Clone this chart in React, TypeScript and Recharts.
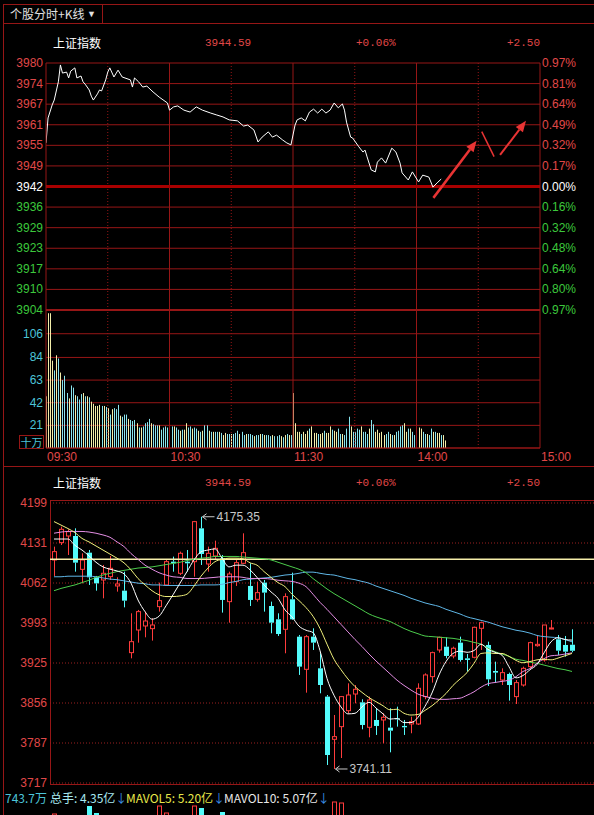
import React from 'react';
import {
  LineChart, BarChart, ComposedChart, Line, Bar, XAxis, YAxis,
  CartesianGrid, ReferenceLine,
} from 'recharts';

// ---------- intraday (分时) ----------
const priceMinutes = [
  0, 1, 3, 4, 6, 7, 8, 10, 11, 12, 14, 15, 17, 18, 19, 21, 22, 23, 25, 26,
  27, 29, 30, 31, 33, 35, 37, 41, 42, 43, 45, 47, 49, 52, 55, 59, 60, 62, 64, 67,
  70, 73, 76, 80, 83, 86, 89, 93, 96, 98, 101, 103, 105, 108, 110, 112, 115, 117, 119, 121,
  122, 124, 126, 128, 130, 132, 134, 136, 138, 140, 142, 144, 145, 146, 148, 149, 152, 154, 155, 156,
  158, 160, 161, 163, 165, 168, 170, 172, 173, 176, 178, 181, 183, 186, 188, 190, 192,
];
const priceValues = [
  3955.4, 3963.1, 3967.1, 3968.6, 3974.2, 3979.4, 3976.9, 3977.2, 3975.4, 3977.5,
  3978.5, 3975.4, 3976.0, 3974.2, 3973.5, 3971.7, 3969.8, 3968.6, 3970.5, 3971.7,
  3971.4, 3974.8, 3977.2, 3978.5, 3975.7, 3977.8, 3975.7, 3974.8, 3972.6, 3975.4,
  3974.2, 3972.6, 3972.9, 3971.1, 3969.5, 3967.7, 3965.5, 3966.5, 3966.8, 3965.5,
  3964.9, 3966.5, 3965.5, 3964.6, 3964.0, 3963.4, 3962.5, 3962.2, 3960.6, 3960.9,
  3959.4, 3955.7, 3957.2, 3958.8, 3957.2, 3957.8, 3956.3, 3955.4, 3954.8, 3960.9,
  3962.5, 3963.1, 3962.2, 3964.9, 3965.8, 3964.6, 3965.8, 3964.6, 3965.5, 3967.7,
  3966.2, 3967.4, 3965.5, 3961.8, 3957.2, 3956.9, 3954.2, 3952.6, 3953.2, 3951.1,
  3947.1, 3946.5, 3949.5, 3950.8, 3949.2, 3953.8, 3952.6, 3949.2, 3946.2, 3944.0,
  3946.5, 3943.4, 3945.5, 3944.9, 3941.8, 3943.1, 3944.3,
];
// volume per minute, unit 十万
const morningVolumes = [
  48, 125, 125, 81, 72, 86, 83, 70, 63, 67, 51, 46, 58, 56, 49, 48, 45, 50, 51, 48,
  48, 47, 43, 41, 39, 39, 40, 39, 39, 38, 37, 31, 36, 37, 36, 40, 30, 29, 31, 31,
  27, 26, 25, 26, 23, 19, 19, 20, 23, 24, 27, 23, 22, 21, 21, 21, 17, 19, 20, 19,
  18, 20, 20, 19, 17, 16, 17, 17, 23, 19, 20, 18, 19, 18, 16, 15, 16, 21, 21, 16,
  15, 15, 15, 15, 15, 14, 12, 14, 13, 13, 13, 13, 14, 16, 13, 15, 12, 13, 13, 13,
  12, 11, 12, 12, 13, 13, 12, 12, 12, 11, 12, 11, 11, 12, 11, 10, 12, 13, 12, 12,
];
const afternoonVolumes = [
  51, 23, 15, 15, 13, 15, 13, 16, 18, 20, 14, 14, 13, 13, 14, 16, 14, 14, 20, 17,
  16, 15, 18, 13, 13, 12, 18, 29, 20, 15, 15, 18, 17, 20, 15, 15, 13, 18, 26, 22,
  15, 17, 14, 15, 12, 13, 15, 13, 12, 12, 15, 16, 20, 21, 23, 15, 18, 18, 15, 12,
  16, 19, 18, 15, 13, 13, 12, 18, 15, 15, 14, 14, 12, 12, 7,
];
// y = up minute (yellow), c = down minute (cyan)
const morningFlags =
  'yyyycycycc' + 'cyccycccyc' + 'ycyyyyycyc' + 'ycycccyccc' + 'ycccycyccc' + 'cycccycccc' +
  'ycyccycyyc' + 'cyccycyccy' + 'cyccycyycc' + 'ycccyccycc' + 'cyccycyccc' + 'ycccycycyc';
const afternoonFlags =
  'yyyycyyycy' + 'yycyycyyyc' + 'yyccycccyc' + 'cccycccycc' + 'yyyyyccycy' + 'ccccyycycc' +
  'cyyccyccyc' + 'yycyy';

const priceTickLabels = ['3980', '3974', '3967', '3961', '3955', '3949', '3942', '3936', '3929', '3923', '3917', '3910', '3904'];
const pctTickLabels = ['0.97%', '0.81%', '0.64%', '0.49%', '0.32%', '0.17%', '0.00%', '0.16%', '0.32%', '0.48%', '0.64%', '0.80%', '0.97%'];
const volumeTicks = [21, 42, 63, 84, 106];
const timeTicks = [0, 60, 120, 180, 240];
const timeLabels = ['09:30', '10:30', '11:30', '14:00', '15:00'];

// hand-drawn red arrows, in (minute, price)
const annotations = [
  { from: [188.2, 3938.5], to: [209.2, 3956.1], head: true, w: 2.5 },
  { from: [211.7, 3958.9], to: [217.7, 3951.2], head: false, w: 1.5 },
  { from: [220.6, 3951.7], to: [233.2, 3962.2], head: true, w: 2 },
];

// ---------- daily K ----------
const candleOpen = [
  4100.9, 4130.8, 4142.2, 4142.2, 4084.8, 4113.5, 4071.1, 4066.5, 4072.2, 4056.2,
  4048.1, 3941.4, 3980.4, 3987.3, 3982.7, 4020.6, 4057.9, 4098.0, 4078.0, 4098.0,
  4098.0, 4155.4, 4094.0, 4107.8, 4103.8, 4029.2, 4063.6, 4095.2, 4056.2, 4033.2,
  4061.9, 4021.7, 3998.8, 3981.6, 4033.2, 3968.9, 3912.7, 3968.9, 3914.4, 3865.7,
  3792.2, 3814.0, 3841.5, 3870.2, 3855.9, 3812.9, 3825.5, 3825.5, 3812.3, 3828.4,
  3815.2, 3818.6, 3818.6, 3865.7, 3900.1, 3946.0, 3951.7, 3935.7, 3958.6, 3931.6,
  3933.4, 3983.3, 3954.6, 3909.8, 3894.3, 3904.7, 3865.7, 3885.7, 3917.3, 3953.4,
  3928.8, 3982.1, 3964.4, 3954.6, 3955.0,
];
const candleHigh = [
  4123.9, 4158.3, 4153.7, 4155.4, 4112.4, 4118.1, 4073.4, 4092.3, 4107.8, 4071.1,
  4080.8, 4009.1, 4014.9, 4012.0, 4000.5, 4061.9, 4100.9, 4106.7, 4115.3, 4118.1,
  4168.1, 4175.35, 4123.9, 4134.2, 4109.5, 4080.8, 4100.9, 4146.8, 4095.2, 4063.6,
  4066.5, 4029.2, 4009.1, 4043.5, 4079.1, 3971.8, 3971.8, 3983.3, 3940.3, 3868.5,
  3834.1, 3866.8, 3888.6, 3885.7, 3861.1, 3865.7, 3845.6, 3837.0, 3845.6, 3848.4,
  3825.5, 3831.2, 3888.6, 3905.8, 3943.1, 3968.9, 3967.8, 3951.7, 3968.9, 3939.1,
  3986.2, 3994.8, 3960.3, 3925.9, 3914.4, 3907.0, 3894.3, 3917.3, 3960.3, 3971.8,
  3989.0, 3997.6, 3971.8, 3970.1, 3981.6,
];
const candleLow = [
  4073.4, 4126.7, 4109.5, 4080.8, 4060.7, 4057.9, 4048.1, 4034.9, 4066.5, 4046.4,
  4019.4, 3931.6, 3958.6, 3967.8, 3962.1, 4012.0, 4056.2, 4080.8, 4075.1, 4080.8,
  4072.2, 4092.3, 4080.8, 4100.9, 4010.3, 3993.0, 4056.2, 4094.0, 4021.7, 4029.2,
  4012.0, 3974.7, 3970.1, 3940.3, 3997.6, 3903.0, 3872.5, 3946.0, 3871.4, 3748.0,
  3741.11, 3760.0, 3837.0, 3854.2, 3809.4, 3795.7, 3799.7, 3785.3, 3769.8, 3814.0,
  3799.7, 3802.6, 3816.9, 3861.1, 3889.8, 3941.4, 3931.6, 3931.6, 3925.9, 3908.7,
  3931.6, 3946.0, 3884.0, 3889.8, 3885.7, 3858.8, 3853.0, 3882.9, 3914.4, 3951.7,
  3925.9, 3981.6, 3937.4, 3934.5, 3942.0,
];
const candleClose = [
  4115.3, 4153.7, 4149.7, 4096.3, 4100.9, 4071.1, 4060.7, 4078.0, 4086.6, 4059.6,
  4030.9, 3960.3, 4012.0, 3995.9, 3989.0, 4030.9, 4098.0, 4095.2, 4112.4, 4095.2,
  4166.9, 4111.2, 4112.4, 4121.0, 4032.1, 4076.8, 4096.3, 4113.5, 4032.1, 4044.7,
  4044.7, 3993.0, 3973.5, 4037.8, 3998.8, 3917.3, 3968.9, 3958.6, 3885.7, 3765.2,
  3796.8, 3865.7, 3868.5, 3878.3, 3816.9, 3859.9, 3815.2, 3830.1, 3807.1, 3826.6,
  3812.9, 3822.6, 3880.0, 3903.0, 3941.4, 3967.8, 3935.7, 3948.9, 3928.8, 3928.8,
  3985.0, 3993.0, 3895.5, 3907.0, 3907.0, 3885.7, 3889.8, 3914.4, 3958.6, 3955.7,
  3989.0, 3983.9, 3944.8, 3943.1, 3944.59,
];
const ma5 = [
  4137, 4137, 4137, 4126, 4118, 4108, 4097, 4089, 4085, 4082, 4077, 4061, 4032, 4012, 3999,
  4004, 4022, 4041, 4061, 4081, 4101, 4115, 4118, 4120, 4104, 4089, 4092, 4092, 4084, 4071,
  4058, 4046, 4035, 4015, 4003, 3987, 3980, 3976, 3945, 3897, 3868, 3848, 3836, 3837, 3848,
  3856, 3846, 3836, 3827, 3828, 3821, 3821, 3830, 3849, 3872, 3903, 3926, 3940, 3944, 3942,
  3945, 3956, 3947, 3942, 3937, 3917, 3898, 3902, 3912, 3921, 3941, 3960, 3967, 3964, 3963,
];
const ma10 = [
  4167, 4161, 4155, 4148, 4138, 4132, 4125, 4118, 4111, 4104, 4096, 4084, 4069, 4058, 4048,
  4041, 4038, 4038, 4039, 4042, 4056, 4073, 4087, 4098, 4102, 4104, 4104, 4103, 4096, 4092,
  4081, 4071, 4062, 4055, 4042, 4031, 4019, 4004, 3983, 3956, 3930, 3912, 3896, 3883, 3873,
  3864, 3857, 3850, 3843, 3844, 3837, 3834, 3835, 3842, 3850, 3860, 3871, 3885, 3896, 3907,
  3923, 3940, 3941, 3940, 3940, 3935, 3928, 3924, 3926, 3929, 3930, 3929, 3932, 3936, 3940,
];
const ma20 = [
  4147, 4149, 4150, 4150, 4150, 4149, 4147, 4144, 4140, 4132, 4124, 4112, 4102, 4092, 4085,
  4079, 4075, 4072, 4071, 4069, 4069, 4069, 4070, 4071, 4072, 4072, 4072, 4071, 4069, 4069,
  4069, 4068, 4066, 4065, 4064, 4061, 4055, 4042, 4028, 4016, 4003, 3990, 3977, 3964, 3952,
  3939, 3927, 3916, 3905, 3894, 3885, 3877, 3870, 3866, 3863, 3861, 3861, 3862, 3863, 3868,
  3874, 3882, 3888, 3890, 3892, 3894, 3900, 3909, 3914, 3923, 3931, 3936, 3937, 3939, 3941,
];
const ma60 = [
  4048, 4052, 4055, 4058, 4062, 4066, 4071, 4075, 4078, 4081, 4083, 4085, 4087, 4088, 4089,
  4091, 4093, 4095, 4097, 4100, 4102, 4104, 4105, 4107, 4107, 4107, 4107, 4106, 4105, 4104,
  4103, 4101, 4097, 4093, 4089, 4085, 4079, 4069, 4060, 4051, 4043, 4036, 4029, 4022, 4015,
  4008, 4003, 3999, 3995, 3989, 3983, 3978, 3974, 3970, 3969, 3968, 3967, 3966, 3964, 3962,
  3959, 3956, 3949, 3943, 3939, 3935, 3930, 3928, 3925, 3923, 3920, 3917, 3914, 3912, 3909,
];
const ma120 = [
  4072, 4072, 4073, 4073, 4073, 4073, 4072, 4070, 4068, 4067, 4065, 4063, 4061, 4060, 4058,
  4058, 4057, 4057, 4057, 4057, 4057, 4058, 4058, 4058, 4059, 4062, 4064, 4067, 4068, 4069,
  4070, 4071, 4073, 4075, 4076, 4078, 4080, 4080, 4078, 4076, 4075, 4072, 4069, 4067, 4064,
  4061, 4056, 4052, 4048, 4044, 4040, 4035, 4031, 4027, 4024, 4021, 4016, 4012, 4008, 4003,
  4000, 3997, 3994, 3990, 3986, 3983, 3980, 3978, 3975, 3971, 3969, 3968, 3967, 3964, 3960,
];
// daily volume, unit 亿
const dailyVolume = [
  6.7, 6.2, 5.8, 6.6, 6.0, 7.5, 6.8, 5.9, 5.5, 5.0, 5.8, 6.3, 6.0, 5.4, 5.1,
  7.5, 6.8, 5.6, 6.0, 5.8, 7.5, 7.3, 6.2, 5.8, 6.9, 6.5, 5.9, 6.1, 6.3, 5.2,
  5.4, 6.0, 5.6, 6.2, 6.0, 6.6, 6.4, 5.0, 6.2, 6.4, 7.9, 7.8, 6.3, 5.4, 5.6,
  6.0, 5.2, 4.8, 5.3, 4.5, 4.2, 4.3, 5.6, 5.9, 6.2, 5.8, 5.1, 4.8, 5.0, 4.6,
  6.0, 5.8, 6.2, 5.0, 4.8, 5.0, 5.1, 5.3, 5.7, 5.2, 6.0, 5.9, 5.0, 4.7, 4.35,
];
const klineTickLabels = ['4199', '4131', '4062', '3993', '3925', '3856', '3787', '3717'];
const guideLevel = 4102;

// ---------- styling ----------
const GRID = '#961616';
const RED_TXT = '#e04848';
const GREEN_TXT = '#3cc83c';
const CYAN_TXT = '#4cc4d8';
const UP = '#ff3c3c';
const DOWN = '#54fcfc';
const FONT = '"Liberation Sans", Arial, sans-serif';
const CJK = '"Noto Sans CJK SC", "Liberation Sans", sans-serif';
const MONO = '"Liberation Mono", "DejaVu Sans Mono", monospace';

const PRICE_MIN = 3904;
const PRICE_MAX = 3980;
const PRICE_STEP = (PRICE_MAX - PRICE_MIN) / (priceTickLabels.length - 1);
const priceTicks = priceTickLabels.map((_, i) => PRICE_MAX - i * PRICE_STEP);
const PRICE_MID = PRICE_MAX - 6 * PRICE_STEP;

const K_MIN = 3717;
const K_MAX = 4199;
const K_STEP = (K_MAX - K_MIN) / (klineTickLabels.length - 1);
const klineTicks = klineTickLabels.map((_, i) => K_MAX - i * K_STEP);

const pricePoints = priceMinutes.map((m, i) => ({ m, p: priceValues[i] }));
const flags = morningFlags + afternoonFlags;
const minuteVolumes = [...morningVolumes, ...afternoonVolumes].map((v, m) => ({ m, v, up: flags[m] === 'y' }));

const candles = candleClose.map((c, i) => ({
  d: i + 1,
  o: candleOpen[i], h: candleHigh[i], l: candleLow[i], c,
  range: [candleLow[i], candleHigh[i]],
  ma5: ma5[i], ma10: ma10[i], ma20: ma20[i], ma60: ma60[i], ma120: ma120[i],
  vol: dailyVolume[i],
}));
const maxHigh = Math.max(...candleHigh);
const minLow = Math.min(...candleLow);

const hourMarks = [60, 120, 180];
const halfHourMarks = [30, 90, 150, 210];

// ---------- ticks ----------
function PriceTick({ x, y, payload }: any) {
  const i = Math.round((PRICE_MAX - payload.value) / PRICE_STEP);
  const fill = i < 6 ? RED_TXT : i === 6 ? '#ffffff' : GREEN_TXT;
  return <text x={x} y={y} dy={4} textAnchor="end" fill={fill} fontSize={12} fontFamily={FONT}>{priceTickLabels[i]}</text>;
}
function PctTick({ x, y, payload }: any) {
  const i = Math.round((PRICE_MAX - payload.value) / PRICE_STEP);
  const fill = i < 6 ? RED_TXT : i === 6 ? '#ffffff' : GREEN_TXT;
  return <text x={x} y={y} dy={4} textAnchor="start" fill={fill} fontSize={12} fontFamily={FONT}>{pctTickLabels[i]}</text>;
}
function VolTick({ x, y, payload }: any) {
  return <text x={x} y={y} dy={4} textAnchor="end" fill={CYAN_TXT} fontSize={12} fontFamily={FONT}>{payload.value}</text>;
}
function TimeTick({ x, y, payload }: any) {
  const i = timeTicks.indexOf(payload.value);
  return <text x={x + 1} y={y + 11} textAnchor="start" fill={RED_TXT} fontSize={12} fontFamily={FONT}>{timeLabels[i]}</text>;
}
function KTick({ x, y, payload }: any) {
  const i = Math.round((K_MAX - payload.value) / K_STEP);
  return <text x={x} y={y} dy={4} textAnchor="end" fill={RED_TXT} fontSize={12} fontFamily={FONT}>{klineTickLabels[i]}</text>;
}

// ---------- shapes ----------
function Arrow({ x1, y1, x2, y2, head, w }: any) {
  const a = Math.atan2(y2 - y1, x2 - x1);
  const ux = Math.cos(a), uy = Math.sin(a);
  const bx = x2 - ux * 11, by = y2 - uy * 11;
  const nx = -uy * 4.5, ny = ux * 4.5;
  return (
    <g>
      <line x1={x1} y1={y1} x2={head ? bx : x2} y2={head ? by : y2} stroke="#e83434" strokeWidth={w} />
      {head && <polygon points={`${x2},${y2} ${bx + nx},${by + ny} ${bx - nx},${by - ny}`} fill="#e83434" />}
    </g>
  );
}

function MinuteBar({ x, y, width, height, payload }: any) {
  if (!height) return null;
  return <rect x={Math.round(x)} y={y} width={Math.max(width, 1)} height={height} fill={payload.up ? '#f4eeaa' : '#8ae4ee'} />;
}

function Extreme({ x, y, text }: any) {
  return (
    <g>
      <line x1={x + 1} x2={x + 13} y1={y} y2={y} stroke="#c8c8c8" />
      <path d={`M${x + 5},${y - 3}L${x + 1},${y}L${x + 5},${y + 3}`} stroke="#c8c8c8" fill="none" />
      <text x={x + 15} y={y + 4} fill="#c8c8c8" fontSize={12} fontFamily={FONT}>{text}</text>
    </g>
  );
}

function Candle({ x, y, width, height, payload }: any) {
  if (x == null || y == null) return null;
  const { o, h, l, c } = payload;
  const k = h > l ? height / (h - l) : 0;
  const py = (v: number) => y + (h - v) * k;
  const cx = Math.floor(x + width / 2) + 0.5;
  const up = c >= o;
  const color = up ? UP : DOWN;
  const top = py(Math.max(o, c));
  const bh = Math.max(py(Math.min(o, c)) - top, 1);
  return (
    <g>
      <line x1={cx} x2={cx} y1={y} y2={top} stroke={color} />
      <line x1={cx} x2={cx} y1={top + bh} y2={y + height} stroke={color} />
      {up
        ? <rect x={cx - 2} y={top} width={4} height={bh} fill="#000" stroke={color} />
        : <rect x={cx - 2.5} y={top} width={5} height={bh} fill={color} />}
      {h === maxHigh && <Extreme x={cx} y={y} text={h.toFixed(2)} />}
      {l === minLow && <Extreme x={cx} y={y + height} text={l.toFixed(2)} />}
    </g>
  );
}

function DayVolBar({ x, y, width, height, payload }: any) {
  if (!height) return null;
  const up = payload.c >= payload.o;
  const cx = Math.floor(x + width / 2) + 0.5;
  return up
    ? <rect x={cx - 2} y={y} width={4} height={height} fill="#000" stroke={UP} />
    : <rect x={cx - 2.5} y={y} width={5} height={height} fill={DOWN} />;
}

// ---------- text / frame helpers ----------
function T({ x, y, color, size = 12, font = FONT, children }: any) {
  return (
    <div style={{ position: 'absolute', left: x, top: y - size / 2, color, fontSize: size, fontFamily: font, lineHeight: `${size}px`, whiteSpace: 'nowrap' }}>
      {children}
    </div>
  );
}
function Rule({ x, y, w, h, c = GRID }: any) {
  return <div style={{ position: 'absolute', left: x, top: y, width: w, height: h, background: c }} />;
}

export default function App() {
  return (
    <div style={{ position: 'relative', width: 594, height: 815, background: '#000', overflow: 'hidden' }}>
      <style>{'html,body{margin:0;padding:0;background:#000;overflow:hidden}'}</style>

      {/* frame */}
      <Rule x={3} y={4} w={1} h={811} />
      <Rule x={3} y={4} w={591} h={1} />
      <Rule x={3} y={23} w={591} h={1} />
      <Rule x={102} y={4} w={1} h={20} />
      <Rule x={3} y={466} w={591} h={1} />
      <Rule x={50} y={500} w={544} h={1} />
      <Rule x={50} y={784} w={544} h={1} />
      <Rule x={50} y={500} w={1} h={285} />

      <T x={10} y={14} color="#e0e0e0" size={12} font={CJK}>个股分时+K线</T>
      <T x={87} y={14} color="#e0e0e0" size={9}>▼</T>

      <T x={53} y={43} color="#ffffff" size={12} font={CJK}>上证指数</T>
      <T x={205} y={43} color={RED_TXT} size={11} font={MONO}>3944.59</T>
      <T x={356} y={43} color={RED_TXT} size={11} font={MONO}>+0.06%</T>
      <T x={507} y={43} color={RED_TXT} size={11} font={MONO}>+2.50</T>

      {/* intraday price */}
      <div style={{ position: 'absolute', left: 0, top: 55 }}>
        <LineChart width={594} height={263} data={pricePoints} margin={{ top: 8, right: 0, bottom: 8, left: 0 }}>
          <CartesianGrid vertical={false} stroke={GRID} />
          <XAxis type="number" dataKey="m" domain={[0, 240]} hide allowDataOverflow />
          <YAxis domain={[PRICE_MIN, PRICE_MAX]} ticks={priceTicks} interval={0} width={46} tickSize={0} tickMargin={3}
            axisLine={{ stroke: GRID }} tick={<PriceTick />} allowDataOverflow />
          <YAxis yAxisId="pct" orientation="right" domain={[PRICE_MIN, PRICE_MAX]} ticks={priceTicks} interval={0} width={54}
            tickSize={0} tickMargin={2} axisLine={{ stroke: GRID }} tick={<PctTick />} allowDataOverflow />
          {hourMarks.map((m) => <ReferenceLine key={m} x={m} stroke={GRID} />)}
          {halfHourMarks.map((m) => <ReferenceLine key={m} x={m} stroke={GRID} strokeDasharray="1 2" />)}
          <ReferenceLine y={PRICE_MID} stroke="#a80000" strokeWidth={3} />
          <ReferenceLine y={PRICE_MIN} stroke={GRID} strokeWidth={2} />
          <Line dataKey="p" stroke="#ffffff" strokeWidth={1} dot={false} type="linear" isAnimationActive={false} />
          {annotations.map((a, i) => (
            <ReferenceLine key={i} segment={[{ x: a.from[0], y: a.from[1] }, { x: a.to[0], y: a.to[1] }]}
              shape={(p: any) => <Arrow {...p} head={a.head} w={a.w} />} />
          ))}
        </LineChart>
      </div>

      {/* intraday volume */}
      <div style={{ position: 'absolute', left: 0, top: 302 }}>
        <BarChart width={594} height={166} data={minuteVolumes} margin={{ top: 8, right: 0, bottom: 0, left: 0 }}>
          <CartesianGrid vertical={false} stroke={GRID} />
          <XAxis type="number" dataKey="m" domain={[0, 240]} ticks={timeTicks} interval={0} height={20} tickSize={0} tickMargin={2}
            axisLine={{ stroke: GRID }} tick={<TimeTick />} allowDataOverflow />
          <YAxis domain={[0, 128]} ticks={volumeTicks} interval={0} width={46} tickSize={0} tickMargin={3}
            axisLine={{ stroke: GRID }} tick={<VolTick />} allowDataOverflow />
          <YAxis yAxisId="r" orientation="right" domain={[0, 128]} width={54} tick={false} tickSize={0} axisLine={{ stroke: GRID }} />
          {hourMarks.map((m) => <ReferenceLine key={m} x={m} stroke={GRID} />)}
          {halfHourMarks.map((m) => <ReferenceLine key={m} x={m} stroke={GRID} strokeDasharray="1 2" />)}
          <Bar dataKey="v" barSize={1} shape={<MinuteBar />} isAnimationActive={false} />
        </BarChart>
      </div>
      <div style={{ position: 'absolute', left: 19, top: 435, width: 23, height: 12, border: `1px solid ${GRID}`, color: CYAN_TXT, fontSize: 11, lineHeight: '12px', textAlign: 'center', fontFamily: CJK }}>十万</div>

      {/* daily K header */}
      <T x={53} y={483} color="#ffffff" size={12} font={CJK}>上证指数</T>
      <T x={205} y={483} color={RED_TXT} size={11} font={MONO}>3944.59</T>
      <T x={356} y={483} color={RED_TXT} size={11} font={MONO}>+0.06%</T>
      <T x={507} y={483} color={RED_TXT} size={11} font={MONO}>+2.50</T>

      {/* daily K */}
      <div style={{ position: 'absolute', left: 0, top: 495 }}>
        <ComposedChart width={594} height={296} data={candles} margin={{ top: 8, right: 0, bottom: 8, left: 0 }}>
          <CartesianGrid vertical={false} stroke="#9a2020" strokeDasharray="1 2" />
          <XAxis dataKey="d" hide padding={{ left: 0.5, right: 18.5 }} />
          <YAxis domain={[K_MIN, K_MAX]} ticks={klineTicks} interval={0} width={50} tickSize={0} tickMargin={3}
            axisLine={false} tick={<KTick />} allowDataOverflow />
          <ReferenceLine y={guideLevel} stroke="#f6eeaa" strokeWidth={1.5} />
          <Bar dataKey="range" barSize={5} shape={<Candle />} isAnimationActive={false} />
          <Line dataKey="ma120" stroke="#5fb6e6" strokeWidth={1} dot={false} type="monotone" isAnimationActive={false} />
          <Line dataKey="ma60" stroke="#4ccc4c" strokeWidth={1} dot={false} type="monotone" isAnimationActive={false} />
          <Line dataKey="ma20" stroke="#e48ee4" strokeWidth={1} dot={false} type="monotone" isAnimationActive={false} />
          <Line dataKey="ma10" stroke="#f0f07c" strokeWidth={1} dot={false} type="monotone" isAnimationActive={false} />
          <Line dataKey="ma5" stroke="#ffffff" strokeWidth={1} dot={false} type="monotone" isAnimationActive={false} />
        </ComposedChart>
      </div>

      {/* daily volume strip */}
      <T x={5} y={798} color={CYAN_TXT} size={12} font={CJK}>743.7万</T>
      <T x={50} y={798} color="#a8e8f0" size={12} font={CJK}>总手: 4.35亿<span style={{ color: '#3a8ee6' }}>↓</span></T>
      <T x={126} y={798} color="#e8e84a" size={12} font={CJK}>MAVOL5: 5.20亿<span style={{ color: '#3a8ee6' }}>↓</span></T>
      <T x={224} y={798} color="#e8e8e8" size={12} font={CJK}>MAVOL10: 5.07亿<span style={{ color: '#3a8ee6' }}>↓</span></T>
      <div style={{ position: 'absolute', left: 0, top: 801 }}>
        <BarChart width={594} height={80} data={candles} margin={{ top: 0, right: 0, bottom: 0, left: 50 }}>
          <XAxis dataKey="d" hide padding={{ left: 0.5, right: 18.5 }} />
          <YAxis hide domain={[0, 8]} allowDataOverflow />
          <Bar dataKey="vol" barSize={5} shape={<DayVolBar />} isAnimationActive={false} />
        </BarChart>
      </div>
    </div>
  );
}
